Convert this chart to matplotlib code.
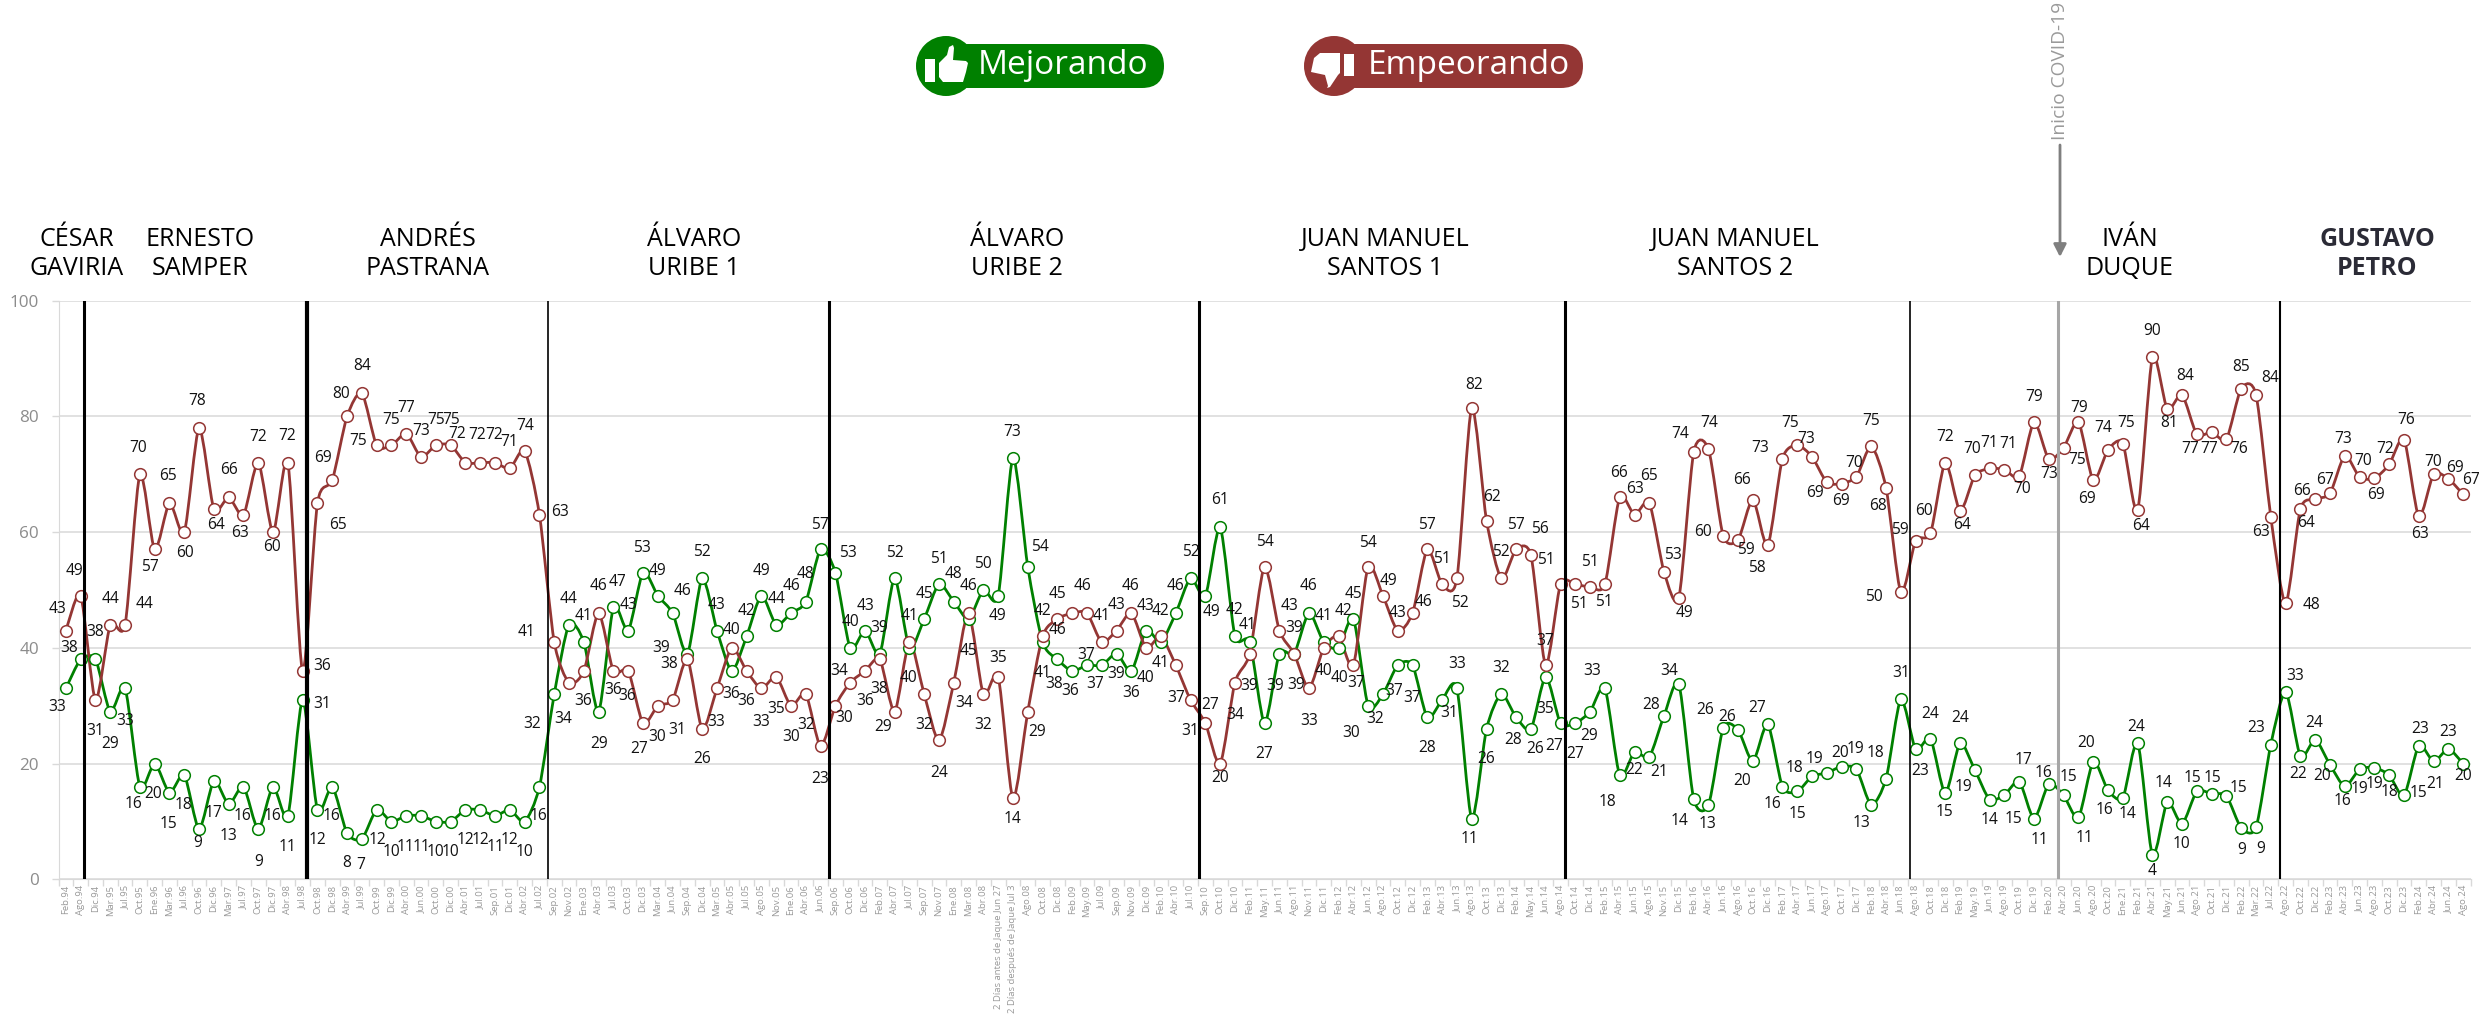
import matplotlib
matplotlib.use("Agg")
import matplotlib.pyplot as plt
from matplotlib.path import Path
from matplotlib.patches import PathPatch, Circle, FancyBboxPatch, Polygon, Rectangle

plt.rcParams['font.family'] = ['Open Sans', 'DejaVu Sans']

fechas = [
    'Feb.94', 'Ago.94', 'Dic.94', 'Mar.95', 'Jul.95', 'Oct.95', 'Ene.96', 'Mar.96', 'Jul.96', 'Oct.96',
    'Dic.96', 'Mar.97', 'Jul.97', 'Oct.97', 'Dic.97', 'Abr.98', 'Jul.98', 'Oct.98', 'Dic.98', 'Abr.99',
    'Jul.99', 'Oct.99', 'Dic.99', 'Abr.00', 'Jun.00', 'Oct.00', 'Dic.00', 'Abr.01', 'Jul.01', 'Sep.01',
    'Dic.01', 'Abr.02', 'Jul.02', 'Sep.02', 'Nov.02', 'Ene.03', 'Abr.03', 'Jul.03', 'Oct.03', 'Dic.03',
    'Mar.04', 'Jun.04', 'Sep.04', 'Dic.04', 'Mar.05', 'Abr.05', 'Jul.05', 'Ago.05', 'Nov.05', 'Ene.06',
    'Abr.06', 'Jun.06', 'Sep.06', 'Oct.06', 'Dic.06', 'Feb.07', 'Abr.07', 'Jul.07', 'Sep.07', 'Nov.07',
    'Ene.08', 'Mar.08', 'Abr.08', '2 Días antes de Jaque Jun 27', '2 Días después de Jaque Jul 3',
    'Ago.08', 'Oct.08', 'Dic.08', 'Feb.09', 'May.09', 'Jul.09', 'Sep.09', 'Nov.09', 'Dic.09', 'Feb.10',
    'Abr.10', 'Jul.10', 'Sep.10', 'Oct.10', 'Dic.10', 'Feb.11', 'May.11', 'Jun.11', 'Ago.11', 'Nov.11',
    'Dic.11', 'Feb.12', 'Abr.12', 'Jun.12', 'Ago.12', 'Oct.12', 'Dic.12', 'Feb.13', 'Abr.13', 'Jun.13',
    'Ago.13', 'Oct.13', 'Dic.13', 'Feb.14', 'May.14', 'Jun.14', 'Ago.14', 'Oct.14', 'Dic.14', 'Feb.15',
    'Abr.15', 'Jun.15', 'Ago.15', 'Nov.15', 'Dic.15', 'Feb.16', 'Abr.16', 'Jun.16', 'Ago.16', 'Oct.16',
    'Dic.16', 'Feb.17', 'Abr.17', 'Jun.17', 'Ago.17', 'Oct.17', 'Dic.17', 'Feb.18', 'Abr.18', 'Jun.18',
    'Ago.18', 'Oct.18', 'Dic.18', 'Feb.19', 'May.19', 'Jun.19', 'Ago.19', 'Oct.19', 'Dic.19', 'Feb.20',
    'Abr.20', 'Jun.20', 'Ago.20', 'Oct.20', 'Ene.21', 'Feb.21', 'Abr.21', 'May.21', 'Jun.21', 'Ago.21',
    'Oct.21', 'Dic.21', 'Feb.22', 'Mar.22', 'Jul.22', 'Ago.22', 'Oct.22', 'Dic.22', 'Feb.23', 'Abr.23',
    'Jun.23', 'Ago.23', 'Oct.23', 'Dic.23', 'Feb.24', 'Abr.24', 'Jun.24', 'Ago.24',
]

# valores
mejorando = [
    33, 38, 38, 29, 33, 16, 20, 15, 18, 8.7, 17, 13, 16, 8.7, 16, 11, 31, 12, 16, 8,
    7, 12, 10, 11, 11, 10, 10, 12, 12, 11, 12, 10, 16, 32, 44, 41, 29, 47, 43, 53,
    49, 46, 39, 52, 43, 36, 42, 49, 44, 46, 48, 57, 53, 40, 43, 39, 52, 40, 45, 51,
    48, 45, 50, 49, 72.8, 54, 41, 38, 36, 37, 37, 39, 36, 43, 41, 46, 52, 49, 60.8, 42,
    41, 27, 39, 39, 46, 41, 40, 45, 30, 32, 37, 37, 28, 31, 33, 10.5, 26, 32, 28, 26,
    35, 27, 27, 29, 33, 18, 22, 21.2,
    28.3, 33.7, 13.9, 12.9, 26.2, 25.8, 20.4, 26.8, 16, 15.2, 17.8, 18.4, 19.5, 19, 12.9,
    17.4, 31.1, 22.5, 24.3, 14.9, 23.5, 18.9, 13.8, 14.6, 16.9, 10.5, 16.5, 14.5, 10.7, 20.3,
    15.4, 14.1, 23.6, 4.2, 13.3, 9.6, 15.2, 14.8, 14.4, 8.9, 9, 23.3, 32.4, 21.3, 24.1,
    19.8, 16.1, 19, 19.3, 18, 14.5, 23.1, 20.4, 22.5, 20,
]
empeorando = [
    43, 49, 31, 44, 44, 70, 57, 65, 60, 78, 64, 66, 63, 72, 60, 72, 36, 65, 69, 80,
    84, 75, 75, 77, 73, 75, 75, 72, 72, 72, 71, 74, 63, 41, 34, 36, 46, 36, 36, 27,
    30, 31, 38, 26, 33, 40, 36, 33, 35, 30, 32, 23, 30, 34, 36, 38, 29, 41, 32, 24,
    34, 46, 32, 35, 14, 29, 42, 45, 46, 46, 41, 43, 46, 40, 42, 37, 31, 27, 20, 34,
    39, 54, 43, 39, 33, 40, 42, 37, 54, 49, 43, 46, 57, 51, 52, 81.5, 62, 52, 57, 56,
    37, 51, 51, 50.5, 51, 66, 63, 65,
    53.1, 48.7, 73.8, 74.3, 59.3, 58.7, 65.6, 57.7, 72.7, 75, 73, 68.6, 68.4, 69.6, 74.8,
    67.6, 49.6, 58.5, 59.8, 72, 63.7, 69.8, 71, 70.8, 69.7, 79, 72.6, 74.6, 79, 69,
    74.2, 75.3, 63.8, 90.2, 81.3, 83.7, 76.9, 77.3, 76.1, 84.8, 83.7, 62.6, 47.7, 64, 65.7,
    66.7, 73.2, 69.5, 69.3, 71.7, 76, 62.7, 70, 69.2, 66.5,
]
mejorando_lbl = [
    33, 38, 38, 29, 33, 16, 20, 15, 18, 9, 17, 13, 16, 9, 16, 11, 31, 12, 16, 8,
    7, 12, 10, 11, 11, 10, 10, 12, 12, 11, 12, 10, 16, 32, 44, 41, 29, 47, 43, 53,
    49, 46, 39, 52, 43, 36, 42, 49, 44, 46, 48, 57, 53, 40, 43, 39, 52, 40, 45, 51,
    48, 45, 50, 49, 73, 54, 41, 38, 36, 37, 37, 39, 36, 43, 41, 46, 52, 49, 61, 42,
    41, 27, 39, 39, 46, 41, 40, 45, 30, 32, 37, 37, 28, 31, 33, 11, 26, 32, 28, 26,
    35, 27, 27, 29, 33, 18, 22, 21,
    28, 34, 14, 13, 26, 26, 20, 27, 16, 15, 18, 19, 20, 19, 13, 18, 31, 23, 24, 15,
    24, 19, 14, 15, 17, 11, 16, 15, 11, 20, 16, 14, 24, 4, 14, 10, 15, 15, 15, 9,
    9, 23, 33, 22, 24, 20, 16, 19, 19, 18, 15, 23, 21, 23, 20,
]
empeorando_lbl = [
    43, 49, 31, 44, 44, 70, 57, 65, 60, 78, 64, 66, 63, 72, 60, 72, 36, 65, 69, 80,
    84, 75, 75, 77, 73, 75, 75, 72, 72, 72, 71, 74, 63, 41, 34, 36, 46, 36, 36, 27,
    30, 31, 38, 26, 33, 40, 36, 33, 35, 30, 32, 23, 30, 34, 36, 38, 29, 41, 32, 24,
    34, 46, 32, 35, 14, 29, 42, 45, 46, 46, 41, 43, 46, 40, 42, 37, 31, 27, 20, 34,
    39, 54, 43, 39, 33, 40, 42, 37, 54, 49, 43, 46, 57, 51, 52, 82, 62, 52, 57, 56,
    37, 51, 51, 51, 51, 66, 63, 65,
    53, 49, 74, 74, 60, 59, 66, 58, 73, 75, 73, 69, 69, 70, 75, 68, 50, 59, 60, 72,
    64, 70, 71, 71, 70, 79, 73, 75, 79, 69, 74, 75, 64, 90, 81, 84, 77, 77, 76, 85,
    84, 63, 48, 64, 66, 67, 73, 70, 69, 72, 76, 63, 70, 69, 67,
]

# desplazamiento de cada etiqueta respecto a su punto (unidades del recorte: 1.867 / 2.529 por pixel)
mejorando_off = [
    (-16,48), (-21,-30), (0,-70), (0,81), (0,83), (-12,43), (-2,76), (-2,80), (-2,75), (-2,35),
    (-1,80), (0,80), (-1,74), (0,83), (-2,74), (0,79), (37,11), (0,77), (-1,74), (-1,76),
    (-2,66), (1,77), (0,76), (-1,78), (0,78), (-1,76), (-1,76), (0,77), (1,77), (0,78),
    (0,77), (-1,76), (-2,74), (-42,75), (-1,-65), (-1,-67), (0,81), (8,-64), (0,-64), (-2,-63),
    (0,-62), (18,-55), (-50,-15), (-1,-67), (-1,-64), (-2,57), (-1,-64), (0,-62), (0,-65), (0,-69),
    (0,-70), (-2,-63), (24,-50), (0,-66), (1,-63), (-1,-66), (0,-65), (-1,75), (1,-62), (0,-63),
    (0,-70), (0,82), (-1,-65), (-2,50), (-1,-65), (22,-49), (-1,78), (-6,62), (-3,51), (-1,-27),
    (-12,47), (-1,52), (-1,56), (-1,-62), (0,52), (-1,-69), (1,-67), (12,41), (0,-70), (0,-67),
    (-5,-44), (0,77), (-7,82), (0,-66), (0,-69), (0,-65), (1,77), (0,-64), (-31,70), (-15,63),
    (-7,65), (0,83), (0,77), (13,33), (0,-62), (-5,52), (0,75), (0,-65), (-5,57), (8,52),
    (-2,82), (-12,59), (-1,78), (-1,62), (-24,-44), (-22,69), (-1,45), (19,38),
    (-24,-26), (-19,-34), (-26,55), (-2,48), (-33,-46), (-20,-33), (-20,50), (-19,-41), (-18,44), (1,56),
    (-32,-20), (-23,-36), (-3,-34), (-2,-51), (-19,46), (-20,-64), (0,-66), (8,54), (0,-63), (-1,47),
    (0,-64), (-21,44), (0,53), (16,60), (8,-55), (10,53), (-11,-27), (9,-46), (11,53), (-13,-49),
    (-6,49), (9,40), (-3,-40), (0,39), (-7,-48), (-1,52), (-8,-34), (2,-41), (23,-20), (0,55),
    (8,56), (-28,-41), (17,-41), (-4,44), (-2,-43), (-15,29), (-5,37), (0,49), (0,42), (1,43),
    (27,-7), (2,-41), (2,58), (-1,-44), (0,30),
]
empeorando_off = [
    (-16,-55), (-11,-62), (0,79), (0,-65), (37,-53), (-3,-66), (-8,44), (-2,-68), (2,52), (-3,-68),
    (4,40), (0,-70), (-6,45), (0,-66), (-2,37), (-1,-67), (36,-12), (39,55), (-17,-56), (-11,-57),
    (0,-70), (-34,-12), (-1,-64), (-1,-65), (0,-65), (0,-65), (0,-65), (-16,-72), (-5,-71), (-1,-71),
    (-1,-66), (0,-63), (39,-7), (-51,-25), (-11,91), (-2,77), (0,-68), (-1,47), (-2,62), (-7,66),
    (-2,79), (9,75), (-34,12), (-1,76), (-2,85), (0,-46), (-1,77), (0,85), (0,81), (0,80),
    (0,78), (-1,82), (17,30), (-21,-30), (0,77), (-1,75), (-21,39), (0,-66), (0,79), (0,81),
    (19,52), (0,-69), (-1,79), (-1,-47), (-1,52), (18,52), (-1,-65), (0,-62), (-28,42), (-8,-69),
    (0,-66), (0,-64), (-1,-69), (-1,75), (0,-65), (0,83), (0,79), (9,-47), (0,36), (1,82),
    (-2,82), (0,-64), (19,-63), (4,80), (0,82), (0,59), (10,-65), (6,46), (0,-60), (10,-38),
    (-1,-45), (20,-29), (0,-63), (-1,-65), (6,61), (5,-57), (10,-60), (0,-66), (-1,-63), (17,-66),
    (-2,-62), (-27,-60), (6,50), (-1,-64), (-2,46), (-1,-61), (0,-66), (-1,-68),
    (16,-44), (10,39), (-26,-45), (1,-66), (-38,-10), (15,26), (-20,-49), (-20,58), (-41,-28), (-13,-56),
    (-12,-44), (-22,26), (-2,43), (-4,-34), (0,-65), (-16,45), (-50,11), (-29,-27), (-12,-57), (0,-66),
    (4,36), (-6,-66), (-1,-65), (6,-66), (6,34), (0,-64), (0,37), (25,31), (2,-37), (-12,47),
    (-9,-56), (6,-52), (7,41), (0,-67), (3,36), (6,-49), (-13,38), (-4,44), (23,26), (0,-55),
    (27,-42), (-19,37), (49,4), (11,36), (-25,-21), (-10,-33), (-3,-42), (7,-41), (3,41), (-7,-40),
    (4,-49), (3,45), (-1,-32), (13,-27), (14,-36),
]

gobiernos = [
    ('CÉSAR\nGAVIRIA', 77), ('ERNESTO\nSAMPER', 200), ('ANDRÉS\nPASTRANA', 428),
    ('ÁLVARO\nURIBE 1', 694), ('ÁLVARO\nURIBE 2', 1017), ('JUAN MANUEL\nSANTOS 1', 1385),
    ('JUAN MANUEL\nSANTOS 2', 1735), ('IVÁN\nDUQUE', 2130),
]
cambios = [1.25, 16.3, 32.6, 51.6, 76.6, 101.3, 124.6, 149.6]
cambios_lw = [2.2, 3, 1.2, 2.2, 2.2, 2.2, 1.2, 1.5]
covid = 134.6

VERDE = '#008000'
ROJO = '#943634'
GW, GH = 2491, 1017


def suave(ax, y, color):
    """Line with Excel-style smoothing, as bezier segments through the points."""
    n = len(y)
    verts = [(0, y[0])]
    codes = [Path.MOVETO]
    k = 1 / 8
    for i in range(n - 1):
        y0 = y[max(i - 1, 0)]
        y3 = y[min(i + 2, n - 1)]
        x0 = max(i - 1, 0)
        x3 = min(i + 2, n - 1)
        verts += [(i + (i + 1 - x0) * k, y[i] + (y[i + 1] - y0) * k),
                  (i + 1 - (x3 - i) * k, y[i + 1] - (y3 - y[i]) * k),
                  (i + 1, y[i + 1])]
        codes += [Path.CURVE4, Path.CURVE4, Path.CURVE4]
    ax.add_patch(PathPatch(Path(verts, codes), fill=False, ec=color, lw=2, zorder=3))


def serie(ax, y, lbl, off, color):
    suave(ax, y, color)
    ax.plot(range(len(y)), y, ls='none', marker='o', ms=8.4, mfc='white', mec=color, mew=1.1, zorder=4)
    for i, (v, t, d) in enumerate(zip(y, lbl, off)):
        ax.annotate(str(t), (i, v), xytext=(d[0] / 1.867 * 0.72, -d[1] / 2.529 * 0.72),
                    textcoords='offset points', ha='center', va='center',
                    fontsize=11.2, color='#111111', zorder=6)


fig = plt.figure(figsize=(GW / 100, GH / 100), dpi=100)
ax = fig.add_axes([58.5 / GW, (GH - 879.4) / GH, (2470.6 - 58.5) / GW, (879.4 - 300.6) / GH])

ax.set_xlim(-0.5, len(fechas) - 0.5)
ax.set_ylim(0, 100)
ax.set_yticks([0, 20, 40, 60, 80, 100])
ax.tick_params(axis='y', labelsize=12.3, labelcolor='#8c8c8c', color='#d9d9d9', length=5, width=1, pad=9)
ax.set_xticks(range(len(fechas)))
ax.set_xticklabels(fechas, rotation=90, fontsize=6.8, color='#999999')
ax.tick_params(axis='x', length=0, pad=4)
ax.set_xticks([i - 0.5 for i in range(len(fechas) + 1)], minor=True)
ax.tick_params(axis='x', which='minor', length=5, color='#d9d9d9', width=1)
ax.grid(axis='y', color='#d9d9d9', lw=1.1)
ax.set_axisbelow(True)
for s in ['top', 'right']:
    ax.spines[s].set_visible(False)
for s in ['left', 'bottom']:
    ax.spines[s].set_color('#d9d9d9')

serie(ax, mejorando, mejorando_lbl, mejorando_off, VERDE)
serie(ax, empeorando, empeorando_lbl, empeorando_off, ROJO)

for c, w in zip(cambios, cambios_lw):
    ax.axvline(c, color='black', lw=w, zorder=5)
ax.axvline(covid, color='#a6a6a6', lw=2.2, zorder=5)

# capa en pixeles para encabezados
top = fig.add_axes([0, 0, 1, 1])
top.set_xlim(0, GW)
top.set_ylim(GH, 0)
top.axis('off')
top.patch.set_alpha(0)

for nombre, x in gobiernos:
    top.text(x, 254, nombre, ha='center', va='center', fontsize=18, color='black', linespacing=1.22)
top.text(2377, 254, 'GUSTAVO\nPETRO', ha='center', va='center', fontsize=18, color='#2b2b36',
         fontweight='bold', linespacing=1.22)

top.text(2060, 71, 'Inicio COVID-19', rotation=90, ha='center', va='center', fontsize=13.8, color='#9a9a9a')
top.annotate('', xy=(2060, 257), xytext=(2060, 145),
             arrowprops=dict(arrowstyle='-|>,head_width=0.38,head_length=0.75', color='#7f7f7f', lw=2, shrinkA=0, shrinkB=0))

# boton Mejorando
top.add_patch(Circle((946, 66), 30, color=VERDE, lw=0))
top.add_patch(FancyBboxPatch((946, 44), 218, 44, boxstyle='round,pad=0,rounding_size=22', fc=VERDE, ec='none'))
top.add_patch(Rectangle((925, 59), 10, 23, fc='white', ec='none'))
top.add_patch(Polygon([(939, 63), (947, 55), (949, 47), (953, 45), (954, 48), (953, 60), (966, 61),
                       (968, 63), (966, 72), (963, 82), (943, 82), (939, 77)], fc='white', ec='none'))
top.text(1063, 66, 'Mejorando', ha='center', va='center', fontsize=24, color='white')

# boton Empeorando
top.add_patch(Circle((1334, 66), 30, color=ROJO, lw=0))
top.add_patch(FancyBboxPatch((1334, 44), 249, 44, boxstyle='round,pad=0,rounding_size=22', fc=ROJO, ec='none'))
top.add_patch(Rectangle((1344, 54), 10, 22, fc='white', ec='none'))
top.add_patch(Polygon([(1340, 53), (1320, 53), (1314, 58), (1311, 72), (1325, 75), (1328, 86),
                       (1327, 88), (1330, 87), (1338, 75), (1340, 73)], fc='white', ec='none'))
top.text(1469, 66, 'Empeorando', ha='center', va='center', fontsize=24, color='white')

fig.savefig('out.png', dpi=100)
